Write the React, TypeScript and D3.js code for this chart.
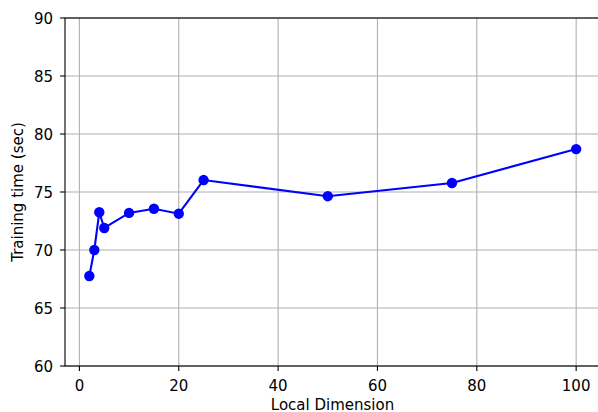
import React from "react";
import * as d3 from "d3";

const dims = [2, 3, 4, 5, 10, 15, 20, 25, 50, 75, 100];
const times = [67.76, 70.0, 73.25, 71.9, 73.2, 73.56, 73.13, 76.03, 74.64, 75.78, 78.7];
const xTicks = [0, 20, 40, 60, 80, 100];
const yTicks = [60, 65, 70, 75, 80, 85, 90];

const W = 598, H = 412;
const left = 65, right = 600.5, top = 18, bottom = 366;

export default function App() {
  const x = d3.scaleLinear().domain([-2.9, 104.9]).range([left, right]);
  const y = d3.scaleLinear().domain([60, 90]).range([bottom, top]);
  const pts = dims.map((d, i) => [x(d), y(times[i])] as [number, number]);
  const line = d3.line()(pts) || "";
  const font = "DejaVu Sans, sans-serif";
  const fs = 15;
  return (
    <svg width={W} height={H} style={{ position: "absolute", left: 0, top: 0, background: "#fff" }}>
      <rect x={0} y={0} width={W} height={H} fill="#fff" />
      {xTicks.map((t) => (
        <line key={"gx" + t} x1={x(t)} x2={x(t)} y1={top} y2={bottom} stroke="#b0b0b0" strokeWidth={1.1} />
      ))}
      {yTicks.map((t) => (
        <line key={"gy" + t} x1={left} x2={right} y1={y(t)} y2={y(t)} stroke="#b0b0b0" strokeWidth={1.1} />
      ))}
      <path d={line} fill="none" stroke="#0000ff" strokeWidth={2.1} />
      {pts.map((p, i) => (
        <circle key={i} cx={p[0]} cy={p[1]} r={5.2} fill="#0000ff" />
      ))}
      <rect x={left} y={top} width={right - left} height={bottom - top} fill="none" stroke="#000" strokeWidth={1.1} />
      {xTicks.map((t) => (
        <g key={"tx" + t}>
          <line x1={x(t)} x2={x(t)} y1={bottom} y2={bottom + 4.9} stroke="#000" strokeWidth={1.1} />
          <text x={x(t)} y={390.5} textAnchor="middle" fontFamily={font} fontSize={fs} fill="#000">{t}</text>
        </g>
      ))}
      {yTicks.map((t) => (
        <g key={"ty" + t}>
          <line x1={left - 4.9} x2={left} y1={y(t)} y2={y(t)} stroke="#000" strokeWidth={1.1} />
          <text x={53} y={y(t) + 1} dy="0.36em" textAnchor="end" fontFamily={font} fontSize={fs} fill="#000">{t}</text>
        </g>
      ))}
      <text x={332.5} y={410} textAnchor="middle" fontFamily={font} fontSize={fs} fill="#000">Local Dimension</text>
      <text transform={`translate(23.3,${(top + bottom) / 2}) rotate(-90)`} textAnchor="middle" fontFamily={font} fontSize={fs} fill="#000">Training time (sec)</text>
    </svg>
  );
}
